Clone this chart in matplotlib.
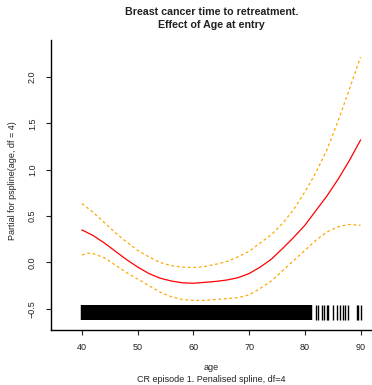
import matplotlib
matplotlib.use("Agg")
import matplotlib.pyplot as plt

plt.rcParams['font.family'] = ['Liberation Sans', 'DejaVu Sans']

# Fitted partial effect and pointwise confidence band
ages = [40, 42, 44, 46, 48, 50, 52, 54, 56, 58, 60, 62, 64, 66, 68, 70,
        72, 74, 76, 78, 80, 82, 84, 86, 88, 90]
fit = [0.35, 0.29, 0.21, 0.12, 0.03, -0.05, -0.12, -0.17, -0.20, -0.22,
       -0.225, -0.215, -0.205, -0.19, -0.165, -0.12, -0.05, 0.035, 0.15,
       0.27, 0.40, 0.56, 0.72, 0.90, 1.10, 1.32]
upper = [0.635, 0.54, 0.43, 0.32, 0.22, 0.13, 0.06, 0.00, -0.035, -0.05,
         -0.055, -0.045, -0.02, 0.01, 0.06, 0.12, 0.21, 0.30, 0.42, 0.57,
         0.76, 0.97, 1.22, 1.53, 1.87, 2.215]
lower_ages = [40, 41, 42, 44, 46, 48, 50, 52, 54, 56, 58, 60, 62, 64, 66,
              68, 70, 72, 74, 76, 78, 80, 82, 84, 86, 88, 90]
lower = [0.08, 0.10, 0.095, 0.05, -0.03, -0.11, -0.18, -0.25, -0.32, -0.37,
         -0.40, -0.41, -0.41, -0.40, -0.39, -0.38, -0.35, -0.28, -0.20, -0.09,
         0.02, 0.13, 0.24, 0.33, 0.385, 0.41, 0.40]

# Observed ages (rug)
rug_ages = [40.2, 40.5, 41.0, 41.5, 42.0, 42.5, 43.0, 43.5, 44.0, 44.5,
            45.0, 45.5, 46.0, 46.5, 47.0, 47.5, 48.0, 48.5, 49.0, 49.5,
            50.0, 50.5, 51.0, 51.5, 52.0, 52.5, 53.0, 53.5, 54.0, 54.5,
            55.0, 55.5, 56.0, 56.5, 57.0, 57.5, 58.0, 58.5, 59.0, 59.5,
            60.0, 60.5, 61.0, 61.5, 62.0, 62.5, 63.0, 63.5, 64.0, 64.5,
            65.0, 65.5, 66.0, 66.5, 67.0, 67.5, 68.0, 68.5, 69.0, 69.5,
            70.0, 70.5, 71.0, 71.5, 72.0, 72.5, 73.0, 73.5, 74.0, 74.5,
            75.0, 75.5, 76.0, 76.6, 77.0, 77.5, 78.0, 78.5, 79.0, 79.5,
            80.0, 80.5, 80.9, 82.0, 82.4, 83.1, 83.5, 83.9, 84.2, 85.1,
            85.7, 86.3, 86.8, 87.2, 87.8, 89.3, 89.6, 90.1]
rug_low, rug_high = -0.62, -0.46

xticks = [40, 50, 60, 70, 80, 90]
yticks = [-0.5, 0.0, 0.5, 1.0, 1.5, 2.0]

fig = plt.figure(figsize=(3.72, 3.85), dpi=100)
ax = fig.add_axes([51 / 372, 1 - 329.7 / 385, 321 / 372, 289.7 / 385])

dense = [a for a in rug_ages if a < 81.5]
sparse = [a for a in rug_ages if a >= 81.5]
ax.vlines(dense, rug_low, rug_high, colors='black', linewidth=3.2)
ax.vlines(sparse, rug_low, rug_high, colors='black', linewidth=1.0)
ax.plot(ages, fit, color='red', linewidth=0.9)
ax.plot(ages, upper, color='#FFA500', linewidth=0.9, dashes=(2.2, 2.2))
ax.plot(lower_ages, lower, color='#FFA500', linewidth=0.9, dashes=(2.2, 2.2))

ax.set_xlim(34.43, 92.06)
ax.set_ylim(-0.726, 2.40)
ax.set_xticks(xticks)
ax.set_xticklabels([str(t) for t in xticks])
ax.set_yticks(yticks)
ax.set_yticklabels(['\u22120.5', '0.0', '0.5', '1.0', '1.5', '2.0'],
                   rotation=90, va='center')
ax.spines['top'].set_visible(False)
ax.spines['right'].set_visible(False)
for s in ['left', 'bottom']:
    ax.spines[s].set_linewidth(1.0)
ax.tick_params(axis='both', direction='out', length=3.6, width=0.8,
               labelsize=6.5, color='#222222', labelcolor='#222222')
ax.tick_params(axis='x', pad=6)
ax.tick_params(axis='y', pad=6.5)

fig.text(13 / 372, 1 - 181 / 385, 'Partial for pspline(age, df = 4)',
         rotation=90, ha='center', va='center', fontsize=6.5, color='#222222')
cx = (51 + 372) / 2 / 372
fig.text(cx, 1 - 12 / 385, 'Breast cancer time to retreatment.',
         ha='center', va='center', fontsize=7.7, fontweight='bold', color='#222222')
fig.text(cx, 1 - 25 / 385, 'Effect of Age at entry',
         ha='center', va='center', fontsize=7.7, fontweight='bold', color='#222222')
fig.text(cx, 1 - 368 / 385, 'age', ha='center', va='center',
         fontsize=6.5, color='#222222')
fig.text(cx, 1 - 380 / 385, 'CR episode 1. Penalised spline, df=4',
         ha='center', va='center', fontsize=6.5, color='#222222')

fig.savefig('out.png', dpi=100)
